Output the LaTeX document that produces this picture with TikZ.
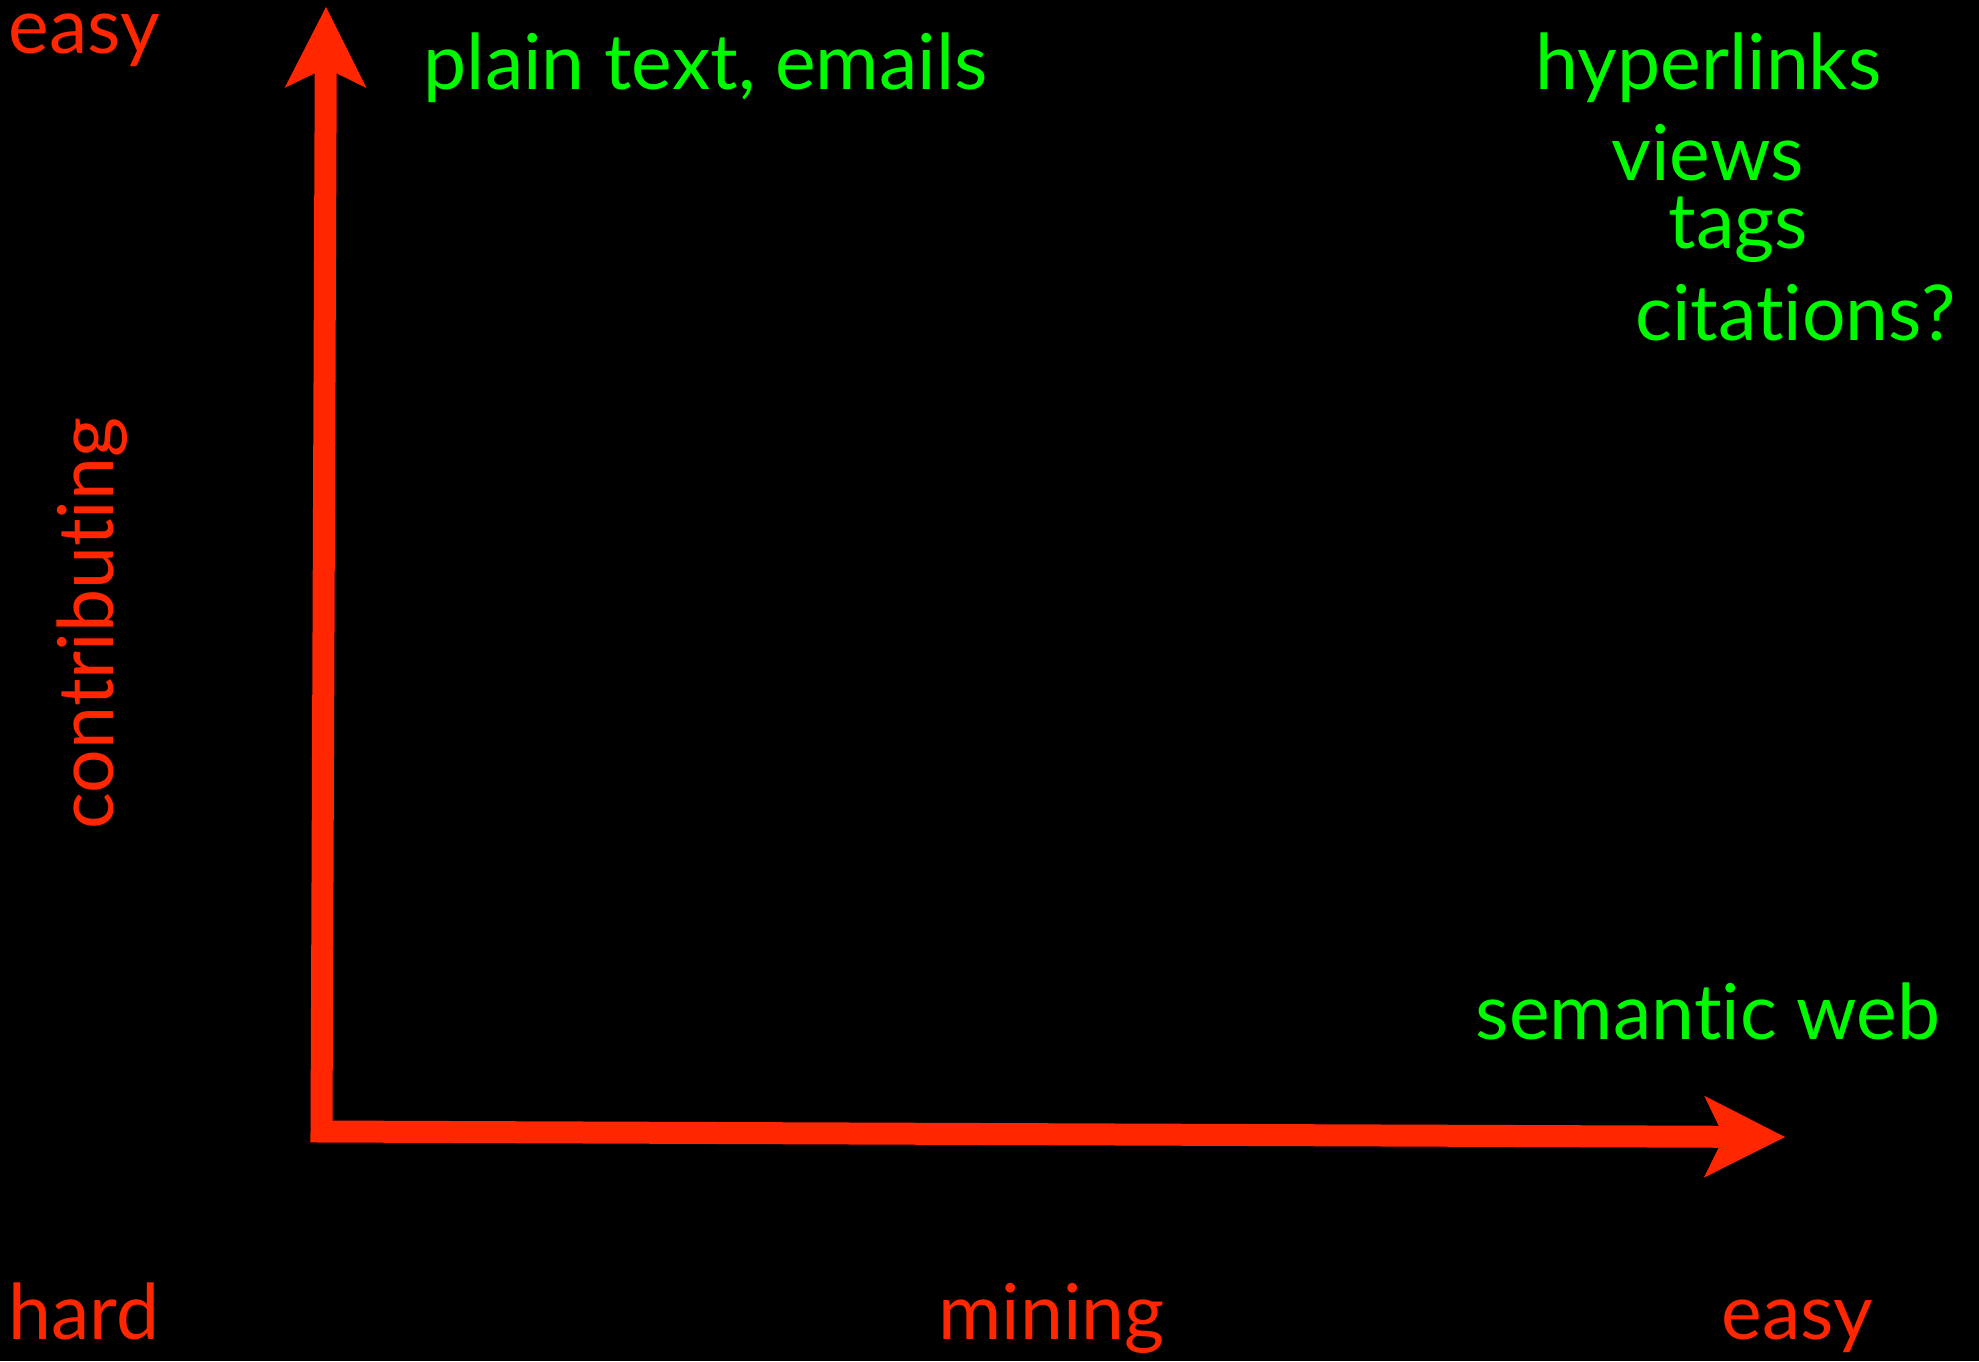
\documentclass[tikz,border=0pt]{standalone}
\usepackage{fontspec}
\setmainfont{Lato}[Ligatures={NoCommon,NoContextual}]
\usetikzlibrary{arrows.meta}
\definecolor{axisred}{RGB}{255,38,0}
\definecolor{labgreen}{RGB}{0,250,0}
\begin{document}
\begin{tikzpicture}[x=1pt,y=-1pt,
  lab/.style={inner sep=0pt, anchor=base, font=\fontsize{77}{80}\selectfont},
  redlab/.style={lab, text=axisred},
  greenlab/.style={lab, text=labgreen},
  axis/.style={draw=axisred, line width=22pt, line join=miter,
    arrows={Stealth[length=81pt,width=82pt,inset=20pt,line width=0pt]-Stealth[length=81pt,width=82pt,inset=20pt,line width=0pt]}}]
\useasboundingbox (0,0) rectangle (1979,1361);
\fill[black] (0,0) rectangle (1979,1361);
\coordinate (ytop) at (326,7);
\coordinate (origin) at (321.5,1131.5);
\coordinate (xend) at (1785,1137);
\draw[axis] (ytop) -- (origin) -- (xend);
\node[redlab] (easytop) at (84.5,53) {easy};
\node[redlab] (hard) at (84,1339) {hard};
\node[redlab] (mining) at (1051.5,1339) {mining};
\node[redlab] (easybot) at (1797.5,1339) {easy};
\node[redlab, rotate=90] (contrib) at (113,623.5) {contributing};
\node[greenlab] (plain) at (705.5,89) {plain text, emails};
\node[greenlab] (hyper) at (1708.5,89) {hyperlinks};
\node[greenlab] (views) at (1707.5,180) {views};
\node[greenlab] (tags) at (1738.5,248) {tags};
\node[greenlab] (cit) at (1795.5,340) {citations?};
\node[greenlab] (sem) at (1708,1039) {semantic web};
\end{tikzpicture}
\end{document}
